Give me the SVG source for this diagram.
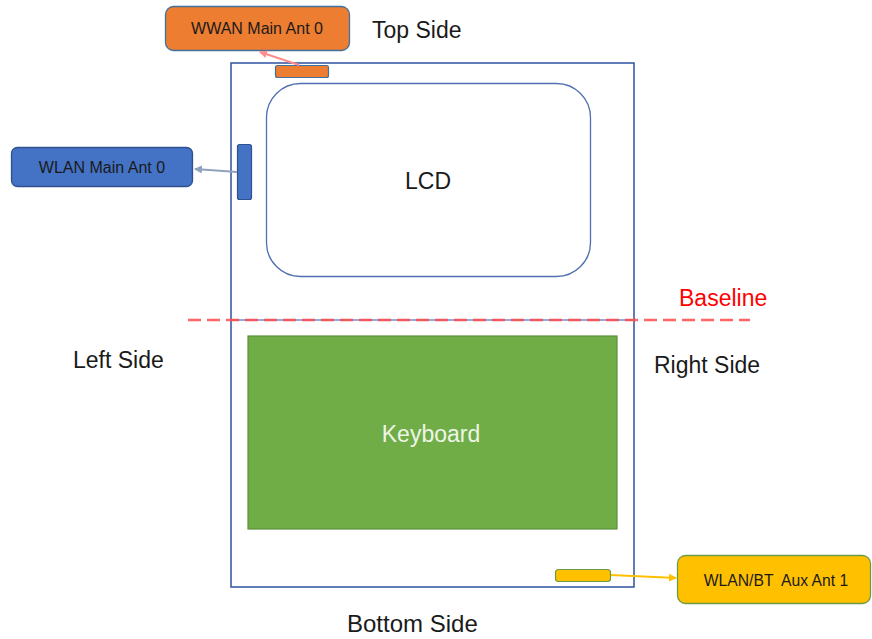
<svg xmlns="http://www.w3.org/2000/svg" width="872" height="639" viewBox="0 0 872 639">
<style>
text{font-family:"Liberation Sans",Arial,sans-serif;fill:#1a1a1a}
.side{font-size:23px}
.lbl{font-size:16px;text-anchor:middle}
.ant{stroke-width:1.2}
</style>
<defs>
<marker id="mPink" markerWidth="8" markerHeight="8" refX="7" refY="4" orient="auto" markerUnits="userSpaceOnUse"><path d="M0,0 L8,4 L0,8 z" fill="#FF8C8C"/></marker>
<marker id="mGray" markerWidth="8" markerHeight="8" refX="7" refY="4" orient="auto" markerUnits="userSpaceOnUse"><path d="M0,0 L8,4 L0,8 z" fill="#8EA2BE"/></marker>
<marker id="mYel" markerWidth="8" markerHeight="8" refX="7" refY="4" orient="auto" markerUnits="userSpaceOnUse"><path d="M0,0 L8,4 L0,8 z" fill="#FFC000"/></marker>
</defs>
<rect width="872" height="639" fill="#ffffff"/>

<g id="chassis">
<rect x="231" y="63" width="403" height="524" fill="none" stroke="#2F52A0" stroke-width="1.5"/>
<line x1="231" y1="320" x2="634" y2="320" stroke="#8FAADC" stroke-width="2"/>
</g>

<g id="lcd">
<rect x="266.5" y="83.5" width="324" height="193" rx="34" fill="#ffffff" stroke="#4F6FB0" stroke-width="1.3"/>
<text x="428" y="189" class="side" text-anchor="middle">LCD</text>
</g>

<g id="keyboard">
<rect x="248" y="336" width="369" height="193" fill="#70AD47" stroke="#5B8F3A" stroke-width="1.2"/>
<text x="431" y="442" class="side" text-anchor="middle" style="fill:#EEF5E8">Keyboard</text>
</g>

<g id="baseline">
<line x1="188" y1="320" x2="750" y2="320" stroke="#FF4A4A" stroke-opacity="0.85" stroke-width="2.5" stroke-dasharray="13,6"/>
<text x="679" y="306" style="font-size:23px;fill:#FF0000">Baseline</text>
</g>

<g id="wwan-ant">
<rect x="275.5" y="65.5" width="53" height="12" rx="2" fill="#ED7D31" stroke="#41719C" class="ant"/>
</g>
<g id="wwan-box">
<rect x="165.5" y="6.5" width="184" height="44" rx="8" fill="#ED7D31" stroke="#41719C" stroke-width="1.3"/>
<text x="257" y="34" class="lbl">WWAN Main Ant 0</text>
</g>

<g id="wlan-ant">
<rect x="237.5" y="144.5" width="14" height="55" rx="2" fill="#4472C4" stroke="#2F528F" class="ant"/>
</g>
<g id="wlan-box">
<rect x="11.5" y="147.5" width="181" height="39" rx="6" fill="#4472C4" stroke="#2F528F" stroke-width="1.3"/>
<text x="102" y="173" class="lbl">WLAN Main Ant 0</text>
</g>

<g id="aux-ant">
<rect x="555.5" y="569.5" width="55" height="12" rx="3" fill="#FFC000" stroke="#6E9A44" class="ant"/>
</g>
<g id="aux-box">
<rect x="677.5" y="555.5" width="193" height="48" rx="8" fill="#FFC000" stroke="#6E9A44" stroke-width="1.3"/>
<text x="776" y="586" class="lbl" style="font-size:15.7px;white-space:pre" xml:space="preserve">WLAN/BT  Aux Ant 1</text>
</g>

<g id="side-labels">
<text x="372" y="38" class="side">Top Side</text>
<text x="73" y="368" class="side">Left Side</text>
<text x="654" y="373" class="side">Right Side</text>
<text x="347" y="632" class="side" style="font-size:24px">Bottom Side</text>
</g>

<g id="connectors">
<line x1="299" y1="65" x2="260" y2="52" stroke="#FF8C8C" stroke-width="2" marker-end="url(#mPink)"/>
<line x1="237" y1="172" x2="195" y2="169" stroke="#8EA2BE" stroke-width="2" marker-end="url(#mGray)"/>
<line x1="611" y1="575" x2="676" y2="578" stroke="#FFC000" stroke-width="2" marker-end="url(#mYel)"/>
</g>
</svg>
